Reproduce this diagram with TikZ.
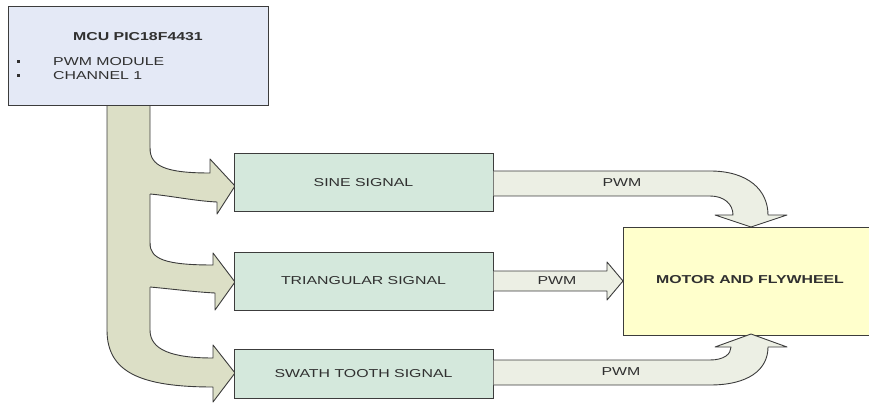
\documentclass[tikz,border=0pt]{standalone}
\usepackage{fontspec}
\setmainfont{Liberation Sans}
\definecolor{mcufill}{HTML}{E4E9F6}
\definecolor{trunkfill}{HTML}{DCDFC6}
\definecolor{sigfill}{HTML}{D4E8DC}
\definecolor{pwmfill}{HTML}{ECEFE4}
\definecolor{motorfill}{HTML}{FFFFCC}
\definecolor{edge}{HTML}{3C3C3C}
\definecolor{txt}{HTML}{303030}
\newcommand{\hs}[1]{\scalebox{1.38}[1]{#1}}
\tikzset{
  box/.style={draw=edge, line width=1pt, rectangle, inner sep=0pt},
  sigbox/.style={box, fill=sigfill, minimum width=259pt, text=txt, font=\fontsize{11.5}{13}\selectfont},
  lbl/.style={inner sep=0pt, text=txt, font=\fontsize{11.5}{13}\selectfont},
  blbl/.style={inner sep=0pt, text=txt, font=\fontsize{11.5}{13}\selectfont\bfseries},
  trunk/.style={fill=trunkfill},
  pwm/.style={fill=pwmfill},
  outl/.style={draw=edge, line width=0.9pt, line join=round},
  bullet/.style={fill=txt, inner sep=0pt, minimum size=3pt}
}
\begin{document}
\begin{tikzpicture}[x=1pt,y=-1pt]
\useasboundingbox (0,0) rectangle (869,403);
% trunk from MCU
\path[trunk] (107,100) -- (107,330) .. controls (107,372) and (140,387) .. (213,387)
  -- (213,402) -- (235,373) -- (213,345) -- (213,358) .. controls (172,358) and (150,350) .. (150,330) -- (150,100) -- cycle;
\draw[outl] (107,100) -- (107,330) .. controls (107,372) and (140,387) .. (213,387)
  -- (213,402) -- (235,373) -- (213,345) -- (213,358) .. controls (172,358) and (150,350) .. (150,330) -- (150,100);
% sine branch
\path[trunk] (146,148) -- (150,148) .. controls (150,166) and (165,173) .. (210,173) -- (210,159) -- (235,186) -- (217,214) -- (217,202)
  .. controls (195,201) and (172,196) .. (150,194) -- (146,194) -- cycle;
\draw[outl] (150,148) .. controls (150,166) and (165,173) .. (210,173) -- (210,159) -- (235,186) -- (217,214) -- (217,202)
  .. controls (195,201) and (172,196) .. (150,194);
% triangular branch
\path[trunk] (146,243) -- (150,243) .. controls (150,259) and (165,265) .. (213,265) -- (213,253) -- (235,282) -- (215,310) -- (215,293)
  .. controls (195,292) and (172,289) .. (150,287) -- (146,287) -- cycle;
\draw[outl] (150,243) .. controls (150,259) and (165,265) .. (213,265) -- (213,253) -- (235,282) -- (215,310) -- (215,293)
  .. controls (195,292) and (172,289) .. (150,287);
% MCU box
\node[box, fill=mcufill, minimum width=260pt, minimum height=99pt] (mcu) at (138,56.5) {};
\node[blbl] (mcutitle) at (138,36.5) {\hs{MCU PIC18F4431}};
\node[bullet] (b1) at (18.5,62) {};
\node[bullet] (b2) at (18.5,76) {};
\node[lbl, anchor=west] (pwmmod) at (53,62) {\hs{PWM MODULE}};
\node[lbl, anchor=west] (ch1) at (53,76) {\hs{CHANNEL 1}};
% signal boxes
\node[sigbox, minimum height=58pt] (sine) at (363.5,183) {\hs{SINE SIGNAL}};
\node[sigbox, minimum height=58pt] (tri) at (363.5,281) {\hs{TRIANGULAR SIGNAL}};
\node[sigbox, minimum height=49pt] (saw) at (363.5,373.5) {\hs{SWATH TOOTH SIGNAL}};
% motor (runs off the right edge of the picture)
\begin{scope}
\clip (0,0) rectangle (869,403);
\node[box, fill=motorfill, minimum width=270pt, minimum height=108pt, anchor=north west] (motor) at (623,227) {};
\end{scope}
\node[blbl] (motortxt) at (750,280) {\hs{MOTOR AND FLYWHEEL}};
% PWM arrows
\draw[pwm, outl] (493.5,171) -- (710,171) .. controls (748,171) and (768,190) .. (768,215) -- (787,215) -- (751,227) -- (715,215) -- (733,215)
  .. controls (733,204) and (724,196) .. (710,196) -- (493.5,196);
\draw[pwm, outl] (493.5,271) -- (607,271) -- (607,262) -- (623,281) -- (607,300) -- (607,291) -- (493.5,291);
\draw[pwm, outl] (493.5,360) -- (710,360) .. controls (724,360) and (731,354) .. (731,347) -- (715,347) -- (751,334) -- (787,347) -- (768,347)
  .. controls (768,370) and (748,385) .. (710,385) -- (493.5,385);
\node[lbl] (pwm1) at (622,183) {\hs{PWM}};
\node[lbl] (pwm2) at (557,280.5) {\hs{PWM}};
\node[lbl] (pwm3) at (621,372) {\hs{PWM}};
\end{tikzpicture}
\end{document}
